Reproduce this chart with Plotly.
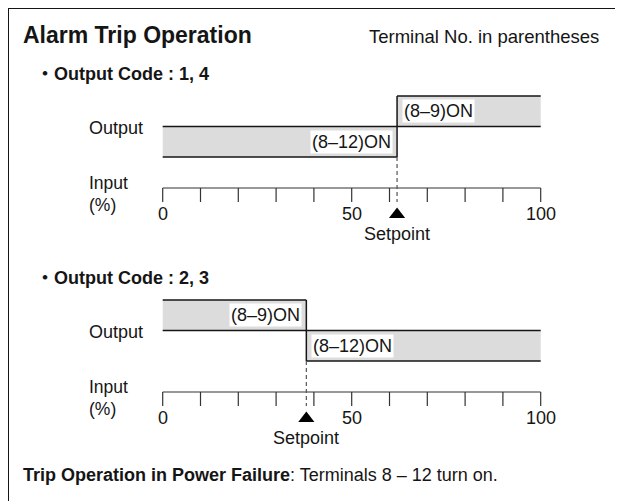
import plotly.graph_objects as go

# ---------------- data ----------------
OUTPUT_CODES = ["1, 4", "2, 3"]
SETPOINTS = [62, 38]                 # setpoint position on the input scale (%)
HIGH_SIDE = ["above", "below"]       # (8–9)ON side relative to setpoint
HIGH_STATE = "(8–9)ON"
LOW_STATE = "(8–12)ON"
TICKS = [0, 10, 20, 30, 40, 50, 60, 70, 80, 90, 100]
TICK_LABELS = ["0", "", "", "", "", "50", "", "", "", "", "100"]

TITLE = "Alarm Trip Operation"
NOTE = "Terminal No. in parentheses"
FOOT_BOLD = "Trip Operation in Power Failure"
FOOT_REST = ": Terminals 8 – 12 turn on."

# ---------------- layout constants ----------------
PAGE_W, PAGE_H = 623, 501
OFF = 8                               # default page margin of the html body
W, H = PAGE_W - OFF, PAGE_H - OFF
PX0, PX100 = 162.7 - OFF, 540.7 - OFF
K = (PX100 - PX0) / (TICKS[-1] - TICKS[0])
XR = [TICKS[0] - PX0 / K, TICKS[0] + (W - PX0) / K]
TOPS = [96, 300]
ROW = 30.5
FONT = "Liberation Sans, Arial, Helvetica, 'Noto Sans CJK JP', sans-serif"
INK = "#151515"
GRAY = "#dcdcdc"

shapes, ann = [], []


def Y(p):
    return p - OFF


def PX(p):
    return (p - OFF) / W


def text(x_px, y, s, size=18, xanchor="left", **kw):
    ann.append(dict(xref="paper", yref="y", x=PX(x_px), y=Y(y), text=s,
                    showarrow=False, xanchor=xanchor, yanchor="middle",
                    font=dict(family=FONT, size=size, color=INK), **kw))


def line(x0, y0, x1, y1, width=1.5, color=INK, dash=None, xref="x"):
    ln = dict(color=color, width=width)
    if dash:
        ln["dash"] = dash
    shapes.append(dict(type="line", xref=xref, yref="y", x0=x0, y0=Y(y0),
                       x1=x1, y1=Y(y1), line=ln, layer="above"))


# frame (top and left edges)
line(0, 8, 1, 8, width=2, xref="paper")
line(0, 8, 0, PAGE_H, width=2, xref="paper")

# header texts
text(21, 35, f"<b>{TITLE}</b>", size=23)
text(601, 36, NOTE, size=18.5, xanchor="right")
text(21, 475, f"<b>{FOOT_BOLD}</b>{FOOT_REST}", size=18)

tri_x, tri_y = [], []
xmin, xmax = TICKS[0], TICKS[-1]
for i, code in enumerate(OUTPUT_CODES):
    top = TOPS[i]
    mid = top + ROW
    bot = mid + ROW
    axis = bot + 31
    sp = SETPOINTS[i]
    if HIGH_SIDE[i] == "above":
        hi, lo = (sp, xmax), (xmin, sp)
    else:
        hi, lo = (xmin, sp), (sp, xmax)

    text(34, top - 22, f"<b>・Output Code : {code}</b>", size=18)

    # state fills
    shapes.append(dict(type="rect", xref="x", yref="y", x0=hi[0], x1=hi[1],
                       y0=Y(top), y1=Y(mid), fillcolor=GRAY,
                       line=dict(width=0), layer="below"))
    shapes.append(dict(type="rect", xref="x", yref="y", x0=lo[0], x1=lo[1],
                       y0=Y(mid), y1=Y(bot), fillcolor=GRAY,
                       line=dict(width=0), layer="below"))
    # state outlines
    line(hi[0], top, hi[1], top)
    line(xmin, mid, xmax, mid)
    line(lo[0], bot, lo[1], bot)
    line(sp, top, sp, bot)

    # state labels next to setpoint
    for (rng, y, lab) in [(hi, (top + mid) / 2, HIGH_STATE),
                          (lo, (mid + bot) / 2, LOW_STATE)]:
        right_side = rng[0] == sp
        ann.append(dict(xref="x", yref="y", x=sp, y=Y(y), text=lab,
                        showarrow=False,
                        xanchor="left" if right_side else "right",
                        xshift=5 if right_side else -4, yanchor="middle",
                        bgcolor="white", borderpad=1,
                        font=dict(family=FONT, size=18, color=INK)))

    text(87, mid + 1, "Output")
    text(87, axis - 5.5, "Input", size=17.5)
    text(87, axis + 16.5, "(%)", size=17.5)

    # input scale
    line(xmin, axis, xmax, axis, width=1.2, color="#333")
    for t, lab in zip(TICKS, TICK_LABELS):
        line(t, axis, t, axis + 14, width=1.2, color="#333")
        if lab:
            ann.append(dict(xref="x", yref="y", x=t, y=Y(axis + 25.5),
                            text=lab, showarrow=False, xanchor="center",
                            yanchor="middle",
                            font=dict(family=FONT, size=18, color=INK)))
    # setpoint
    line(sp, bot, sp, axis + 14, width=1.2, color="#555", dash="4px,3px")
    tri_x.append(sp)
    tri_y.append(Y(axis + 26.5))
    ann.append(dict(xref="x", yref="y", x=sp, y=Y(axis + 46),
                    text="Setpoint", showarrow=False, xanchor="center",
                    yanchor="middle",
                    font=dict(family=FONT, size=18, color=INK)))

fig = go.Figure()
fig.add_trace(go.Scatter(x=tri_x, y=tri_y, mode="markers",
                         marker=dict(symbol="triangle-up", size=14,
                                     color="#000"),
                         hoverinfo="skip", showlegend=False))
fig.update_layout(
    width=W, height=H, margin=dict(l=0, r=0, t=0, b=0, pad=0),
    paper_bgcolor="white", plot_bgcolor="white", showlegend=False,
    xaxis=dict(range=XR, visible=False, fixedrange=True),
    yaxis=dict(range=[H, 0], visible=False, fixedrange=True),
    shapes=shapes, annotations=ann,
)
fig.write_html("out.html")
